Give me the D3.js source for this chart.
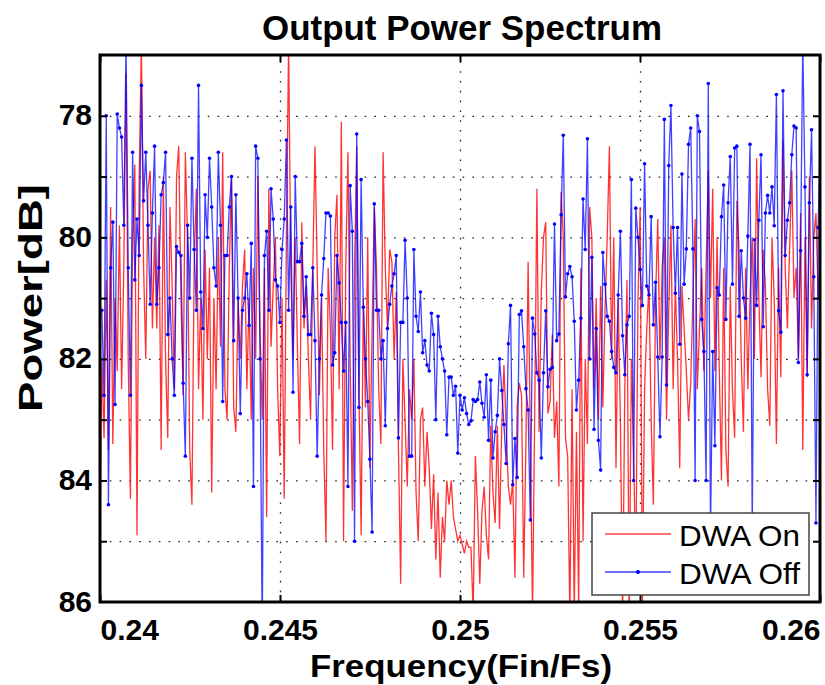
<!DOCTYPE html>
<html>
<head>
<meta charset="utf-8">
<script src="https://cdn.jsdelivr.net/npm/d3@7"></script>
<style>
  body { margin: 0; background: #fff; }
  text { font-family: "Liberation Sans", Arial, Helvetica, sans-serif; }
</style>
</head>
<body>
<svg id="chart" width="825" height="685"></svg>
<script>
// FFT bins (Fin/Fs = bin / fftLen), first bin just left of 0.24
const fftLen = 16384;
const startBin = 3932;

// DWA On (red), one value per bin, dB
const dwaOn = [
  85.6, 82.0, 83.3, 80.7, 83.5, 79.5, 83.4, 81.0, 82.2, 79.8,
  82.5, 80.5, 77.3, 82.0, 84.3, 80.0, 78.8, 84.9, 79.0, 76.8,
  80.5, 82.0, 79.2, 78.9, 81.5, 80.0, 81.5, 79.8, 83.5, 79.0,
  82.0, 83.3, 79.5, 80.8, 82.5, 79.0, 78.5, 81.0, 82.6, 78.6,
  80.0, 83.5, 84.4, 80.5, 79.2, 82.5, 81.0, 83.0, 80.2, 82.0,
  80.5, 84.2, 81.0, 82.5, 80.0, 81.8, 78.6, 82.5, 83.0, 80.5,
  79.0, 82.8, 83.2, 81.0, 82.0, 80.8, 80.2, 82.5, 81.0, 83.0,
  80.5, 82.0, 79.0, 81.5, 83.0, 80.5, 84.6, 79.2, 81.8, 80.8,
  80.0, 82.5, 83.6, 81.0, 84.3, 80.0, 76.8, 80.5, 82.0, 80.0,
  81.8, 83.4, 79.75, 81.5, 80.8, 82.0, 83.0, 80.5, 78.5, 80.5,
  82.6, 81.0, 83.5, 85.0, 80.5,
  81.5, 83.5, 80.0, 79.3, 82.5, 78.1, 85.0, 80.5, 78.6, 82.0,
  84.5, 80.5, 78.5, 82.5, 84.9, 81.0, 82.8, 80.0, 83.8, 81.5,
  79.5, 80.5, 82.5, 83.4, 78.6, 80.5, 81.5, 80.2, 80.4, 82.0,
  80.9, 83.5, 85.7, 82.0, 83.0, 84.1, 82.5, 83.0, 82.0, 84.2,
  85.0, 83.0, 82.8, 84.1, 83.2, 83.8, 84.8, 83.9, 85.3, 84.2,
  85.6, 84.6, 85.0, 84.0, 84.4,
  84.0, 84.6, 84.8, 85.0, 84.9, 85.05, 85.2, 85.0, 85.1, 85.1,
  86.2, 83.6, 84.5, 85.7, 84.5, 84.1, 84.9, 85.3, 83.1, 84.2,
  84.7, 83.1, 84.8, 83.1, 82.1, 83.1, 84.1, 84.4, 84.0, 85.6,
  82.8, 82.4, 82.6, 85.6, 83.4, 80.4, 83.3, 86.2, 82.9, 79.2,
  83.2, 80.9, 80.0, 79.75, 82.9, 82.7, 81.6, 83.3, 82.7, 84.1,
  79.25, 80.0, 83.3, 83.6, 86.3, 82.5, 86.2, 83.2, 86.1,
  80.5, 85.0, 82.0, 83.4, 79.5, 80.0, 82.5, 81.0, 83.0, 80.8,
  82.8, 81.2, 80.0, 78.5, 82.0, 80.0, 83.8, 81.0, 83.0, 86.3,
  82.5, 80.7, 86.3, 82.0, 83.5, 85.6, 81.0, 79.5, 86.1, 82.5,
  81.5, 80.8, 83.0, 84.4, 81.0, 79.7, 82.0, 80.5, 80.0, 83.0,
  81.2, 79.8, 82.5, 80.8, 82.0, 83.8, 80.8, 81.5, 82.2, 83.0,
  82.4, 81.0, 79.7, 82.5, 81.5,
  80.5, 82.2, 80.5, 78.9, 81.0, 79.2, 82.2, 80.0, 82.2, 84.0,
  80.5, 83.5, 84.1, 80.8, 82.5, 83.3, 79.4, 80.2, 82.0, 83.2,
  80.5, 82.5, 81.0, 80.0, 82.0, 78.7, 81.0, 82.3, 80.2, 80.8,
  82.5, 83.1, 80.0, 81.0, 83.4, 80.5, 82.3, 78.4, 80.5, 81.5,
  80.2, 78.9, 81.0, 80.5, 82.0, 79.6, 83.5, 80.0, 82.3, 79.0,
  81.5, 80.0, 79.6, 81.0, 80.3
];

// DWA Off (blue, with markers), dB
const dwaOff = [
  81.3, 81.2, 82.6, 78.0, 84.4, 80.5, 79.75, 82.75, 77.97, 78.2,
  78.35, 79.8, 76.8, 80.5, 82.6, 78.6, 80.7, 79.7, 80.3, 77.5,
  79.4, 78.6, 79.8, 81.1, 79.6, 78.5, 81.1, 80.5, 79.3, 79.1,
  78.6, 81.6, 81.0, 82.0, 82.6, 80.15, 80.25, 80.3, 82.4, 83.6,
  79.8, 81.0, 78.7, 80.2, 81.2, 77.5, 80.9, 81.5, 79.3, 80.0,
  78.7, 79.5, 80.5, 80.8, 78.6, 79.8, 82.7, 80.3, 80.3, 79.5,
  79.0, 81.7, 79.3, 81.0, 82.9, 81.2, 81.0, 80.6, 81.45, 80.1,
  84.1, 78.5, 78.7, 82.0, 86.6, 80.3, 79.9, 81.2, 79.2, 79.7,
  80.7, 80.8, 81.4, 80.2, 79.7, 78.4, 81.2, 79.5, 82.55, 79.0,
  80.4, 80.4, 80.1, 81.3, 80.65, 81.6, 81.6, 80.5, 81.7, 83.6,
  82.0, 80.95, 80.35, 79.6, 79.6, 79.65, 82.1, 81.9, 80.3, 80.75,
  81.4, 82.2, 81.4, 84.1, 79.15, 79.9, 85.0, 78.3, 82.8, 79.05,
  81.15, 82.0, 82.7, 83.65, 84.85, 79.45, 81.2, 81.2, 82.0, 81.7,
  83.1, 81.5, 81.1, 80.8, 80.6, 80.3, 83.3, 81.4, 81.4, 80.05,
  81.0, 83.6, 83.6, 80.2, 81.3, 81.55, 80.9, 81.9, 81.7, 82.1,
  82.2, 81.25, 81.6, 83.0, 81.3, 81.8, 82.0, 82.2, 83.25, 82.3,
  82.3, 82.6, 82.45, 83.55, 82.6,
  82.84, 82.64, 82.9, 83.08, 83.02, 82.67, 82.7, 82.67, 82.38, 82.73,
  82.96, 82.26, 83.34, 82.35, 83.63, 83.2, 82.93, 82.0, 82.52, 83.08,
  83.72, 81.75, 81.12, 84.07, 83.31, 83.95, 81.27, 81.21, 81.8, 82.49,
  82.84, 84.65, 81.33, 81.59, 82.23, 82.35, 83.63, 82.23, 81.21, 82.46,
  82.17, 82.14, 79.78, 81.7, 81.59, 79.63, 78.32, 80.98, 80.6, 80.48,
  80.65, 81.38, 82.84, 82.35,
  81.33, 79.37, 80.2, 78.38,
  82.0, 80.33, 83.16, 81.5, 83.34, 83.83, 80.25, 80.77, 81.3, 81.38,
  81.88, 82.14, 82.23, 80.95, 79.9, 81.62, 82.26, 81.44, 81.3, 79.05,
  84.0, 79.52, 80.0, 80.53, 81.12, 78.79, 80.8, 80.95, 79.66, 81.44,
  80.74, 81.97, 83.28, 81.97, 78.06, 82.43, 78.82, 77.83, 79.84, 80.92,
  79.84, 81.76, 78.96, 80.77, 80.19, 78.47, 78.2, 80.19, 84.0, 78.0,
  78.26, 81.35, 81.88, 84.0,
  77.47, 84.9, 81.88, 83.43, 80.83, 80.95, 79.66, 79.14, 81.35, 79.43,
  78.67, 80.77, 78.53, 78.5, 81.3, 80.22, 81.0, 81.33, 79.98, 78.47,
  84.8, 80.04, 81.12, 79.72, 78.64, 81.47, 79.6, 79.31, 79.6, 79.17,
  79.81, 77.65, 81.21, 81.56, 77.59, 80.3, 79.72, 79.43, 78.64, 78.17,
  78.2, 82.06, 80.22, 76.8, 79.17, 82.26, 79.43, 78.23, 80.65, 84.7,
  79.84, 78.2
];

const xTicks = [0.24, 0.245, 0.25, 0.255, 0.26];
const xTickLabels = ["0.24", "0.245", "0.25", "0.255", "0.26"];
const xGrid = [0.245, 0.25, 0.255];
const yTicks = [78, 80, 82, 84, 86];
const yGrid = [78, 79, 80, 81, 82, 83, 84, 85];
const seriesNames = ["DWA On", "DWA Off"];

const pLeft = 100, pRight = 820, pTop = 55, pBottom = 602;

const x = d3.scaleLinear().domain([0.24, 0.26]).range([pLeft, pRight]);
const y = d3.scaleLinear().domain([77, 86]).range([pTop, pBottom]);
const freq = dwaOff.map((d, i) => (startBin + i) / fftLen);

const svg = d3.select("#chart");

svg.append("defs").append("clipPath").attr("id", "plotArea")
  .append("rect")
  .attr("x", pLeft).attr("y", pTop)
  .attr("width", pRight - pLeft).attr("height", pBottom - pTop);

// dotted grid
const grid = svg.append("g");
grid.append("g")
  .attr("transform", `translate(0,${pBottom})`)
  .call(d3.axisBottom(x).tickValues(xGrid).tickSize(-(pBottom - pTop)).tickFormat(""));
grid.append("g")
  .attr("transform", `translate(${pLeft},0)`)
  .call(d3.axisLeft(y).tickValues(yGrid).tickSize(-(pRight - pLeft)).tickFormat(""));
grid.selectAll(".domain").remove();
grid.selectAll("line")
  .attr("stroke", "#222")
  .attr("stroke-width", 1.3)
  .attr("stroke-dasharray", "1.6,8.2");

// series
const line = d3.line().x((d, i) => x(freq[i])).y(d => y(d));
const plot = svg.append("g").attr("clip-path", "url(#plotArea)");

plot.append("path")
  .datum(dwaOn)
  .attr("d", line)
  .attr("fill", "none")
  .attr("stroke", "#ff0000")
  .attr("stroke-width", 1.3)
  .attr("stroke-opacity", 0.8);

plot.append("path")
  .datum(dwaOff)
  .attr("d", line)
  .attr("fill", "none")
  .attr("stroke", "#0000ff")
  .attr("stroke-width", 1.3)
  .attr("stroke-opacity", 0.75);

plot.selectAll("circle")
  .data(dwaOff)
  .join("circle")
  .attr("cx", (d, i) => x(freq[i]))
  .attr("cy", d => y(d))
  .attr("r", 1.8)
  .attr("fill", "#0000ff");

// inward tick marks on all four sides
const tl = 7;
const ticks = svg.append("g");
ticks.append("g").attr("transform", `translate(0,${pBottom})`)
  .call(d3.axisBottom(x).tickValues(xTicks).tickSize(-tl).tickFormat(""));
ticks.append("g").attr("transform", `translate(0,${pTop})`)
  .call(d3.axisTop(x).tickValues(xTicks).tickSize(-tl).tickFormat(""));
ticks.append("g").attr("transform", `translate(${pLeft},0)`)
  .call(d3.axisLeft(y).tickValues(yGrid).tickSize(-tl).tickFormat(""));
ticks.append("g").attr("transform", `translate(${pRight},0)`)
  .call(d3.axisRight(y).tickValues(yGrid).tickSize(-tl).tickFormat(""));
ticks.selectAll(".domain").remove();
ticks.selectAll("line").attr("stroke", "#000").attr("stroke-width", 2);

// frame
svg.append("rect")
  .attr("x", pLeft).attr("y", pTop)
  .attr("width", pRight - pLeft).attr("height", pBottom - pTop)
  .attr("fill", "none").attr("stroke", "#000").attr("stroke-width", 3);

// tick labels
const xAxis = svg.append("g")
  .attr("transform", `translate(0,${pBottom})`)
  .call(d3.axisBottom(x).tickValues(xTicks).tickSize(0).tickFormat((d, i) => xTickLabels[i]));
xAxis.select(".domain").remove();
xAxis.selectAll("text")
  .attr("y", 38).attr("dy", 0)
  .attr("font-size", 30).attr("font-weight", "bold").attr("fill", "#000")
  .attr("font-family", "Liberation Sans, Arial, sans-serif")
  .attr("text-anchor", (d, i) => i === 0 ? "start" : (i === xTicks.length - 1 ? "end" : "middle"));

const yAxis = svg.append("g")
  .attr("transform", `translate(${pLeft},0)`)
  .call(d3.axisLeft(y).tickValues(yTicks).tickSize(0).tickPadding(8));
yAxis.select(".domain").remove();
yAxis.selectAll("text")
  .attr("font-size", 30).attr("font-weight", "bold").attr("fill", "#000")
  .attr("font-family", "Liberation Sans, Arial, sans-serif")
  .attr("dy", "0.3em");

// titles
svg.append("text")
  .attr("x", 462).attr("y", 40)
  .attr("text-anchor", "middle")
  .attr("font-size", 35).attr("font-weight", "bold")
  .attr("textLength", 400).attr("lengthAdjust", "spacingAndGlyphs")
  .text("Output Power Spectrum");

svg.append("text")
  .attr("x", 461).attr("y", 677)
  .attr("text-anchor", "middle")
  .attr("font-size", 32).attr("font-weight", "bold")
  .attr("textLength", 302).attr("lengthAdjust", "spacingAndGlyphs")
  .text("Frequency(Fin/Fs)");

svg.append("text")
  .attr("transform", "translate(42,298) rotate(-90)")
  .attr("text-anchor", "middle")
  .attr("font-size", 34).attr("font-weight", "bold")
  .attr("textLength", 228).attr("lengthAdjust", "spacingAndGlyphs")
  .text("Power[dB]");

// legend
const lg = svg.append("g");
lg.append("rect")
  .attr("x", 592).attr("y", 513).attr("width", 217).attr("height", 82)
  .attr("fill", "#fff").attr("stroke", "#444").attr("stroke-width", 1.5);
const colors = ["#ff0000", "#0000ff"];
seriesNames.forEach((name, i) => {
  const ly = 534 + i * 38;
  lg.append("line")
    .attr("x1", 605).attr("x2", 671).attr("y1", ly).attr("y2", ly)
    .attr("stroke", colors[i]).attr("stroke-width", 1.5).attr("stroke-opacity", 0.75);
  if (i === 1) {
    lg.append("circle").attr("cx", 638).attr("cy", ly).attr("r", 2).attr("fill", colors[i]);
  }
  lg.append("text")
    .attr("x", 679).attr("y", ly + 12)
    .attr("font-size", 30)
    .attr("textLength", 121).attr("lengthAdjust", "spacingAndGlyphs")
    .text(name);
});
</script>
</body>
</html>
